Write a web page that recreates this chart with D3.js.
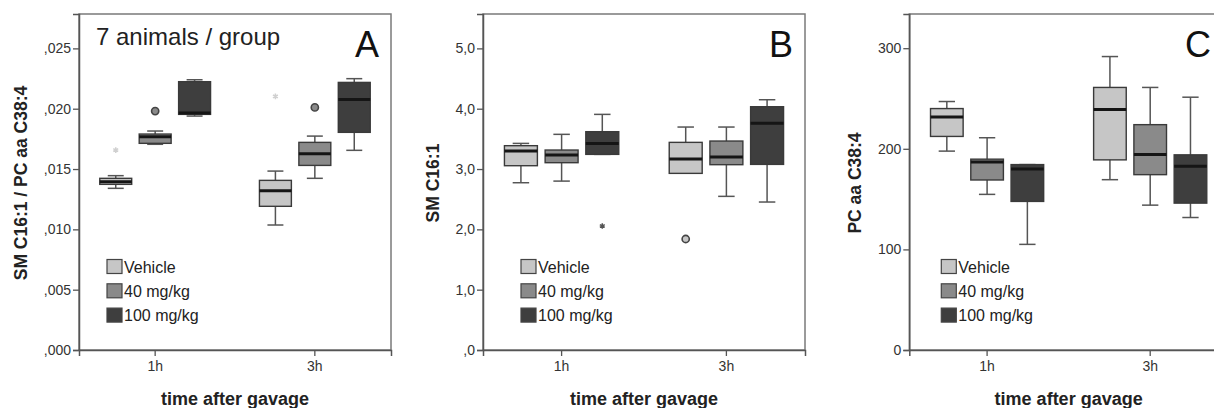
<!DOCTYPE html>
<html>
<head>
<meta charset="utf-8">
<script src="https://cdn.jsdelivr.net/npm/d3@7"></script>
<style>
body { margin: 0; background: #fff; }
svg { font-family: "Liberation Sans", Arial, sans-serif; display: block; }
</style>
</head>
<body>
<svg id="chart"></svg>
<script>
let times = ['1h', '3h'];
let groups = ['Vehicle', '40 mg/kg', '100 mg/kg'];

// each row: [lower whisker, q1, median, q3, upper whisker], 1h groups then 3h groups
let boxesA = [
    [0.01340, 0.01373, 0.01395, 0.01423, 0.01445],
    [0.01705, 0.01713, 0.01768, 0.01790, 0.01815],
    [0.01939, 0.01953, 0.01964, 0.02224, 0.02240],
    [0.01036, 0.01191, 0.01320, 0.01406, 0.01483],
    [0.01423, 0.01530, 0.01627, 0.01721, 0.01773],
    [0.01655, 0.01804, 0.02077, 0.02218, 0.02249]
];
let outliersA = [
    ['1h', 'Vehicle', 0.01657, 'star'],
    ['1h', '40 mg/kg', 0.01980, 'circle'],
    ['3h', 'Vehicle', 0.02102, 'star'],
    ['3h', '40 mg/kg', 0.02011, 'circle']
];
let ticksA = [0, 0.005, 0.010, 0.015, 0.020, 0.025];

let boxesB = [
    [2.773, 3.055, 3.300, 3.387, 3.425],
    [2.800, 3.105, 3.232, 3.315, 3.575],
    [3.243, 3.243, 3.425, 3.619, 3.906],
    [2.930, 2.928, 3.166, 3.442, 3.696],
    [2.547, 3.072, 3.199, 3.464, 3.696],
    [2.453, 3.077, 3.757, 4.033, 4.149]
];
let outliersB = [
    ['1h', '100 mg/kg', 2.055, 'star'],
    ['3h', 'Vehicle', 1.840, 'circle']
];
let ticksB = [0, 1, 2, 3, 4, 5];

let boxesC = [
    [197.7, 212.3, 231.7, 240.0, 247.0],
    [154.7, 169.0, 187.0, 189.7, 211.0],
    [105.0, 147.7, 179.8, 184.3, 184.3],
    [169.3, 189.0, 239.0, 261.0, 291.7],
    [144.0, 174.3, 194.3, 224.0, 261.0],
    [131.7, 146.0, 182.7, 194.0, 251.3]
];
let outliersC = [];
let ticksC = [0, 100, 200, 300];

let width = 1214;
let height = 408;
let plotTop = 14;
let plotBottom = 350;

let color = d3.scaleOrdinal().domain(groups).range(['#c6c6c6', '#8a8a8a', '#3e3e3e']);

let commaFmt = (digits) => (v) => {
    let s = d3.format('.' + digits + 'f')(v).replace('.', ',');
    return s.replace(/^0,/, ',');
};

let panels = [
    { letter: 'A', letterPad: 12, left: 79, right: 391, yMax: 0.02785, boxes: boxesA, outliers: outliersA, ticks: ticksA,
      fmt: commaFmt(3), title: 'SM C16:1 / PC aa C38:4', titleOff: 58, legendX: 28, note: '7 animals / group' },
    { letter: 'B', letterPad: 12, left: 483, right: 805, yMax: 5.57, boxes: boxesB, outliers: outliersB, ticks: ticksB,
      fmt: commaFmt(1), title: 'SM C16:1', titleOff: 50, legendX: 38 },
    { letter: 'C', letterPad: 17, left: 909.3, right: 1228, yMax: 334, boxes: boxesC, outliers: outliersC, ticks: ticksC,
      fmt: d3.format('d'), title: 'PC aa C38:4', titleOff: 54, legendX: 32 }
];

let svg = d3.select('#chart').attr('width', width).attr('height', height);
svg.append('rect').attr('width', width).attr('height', height).attr('fill', '#fff');

const drawPanel = (p) => {
    let w = p.right - p.left;
    let h = plotBottom - plotTop;
    let g = svg.append('g').attr('transform', `translate(${p.left},${plotTop})`);

    let y = d3.scaleLinear().domain([0, p.yMax]).range([h, 0]);
    let x0 = d3.scaleBand().domain(times).range([0, w]).paddingInner(0.2).paddingOuter(0.077);
    let x1 = d3.scaleBand().domain(groups).range([0, x0.bandwidth()]).paddingInner(0.19).paddingOuter(0.215);
    let bw = x1.bandwidth();

    g.append('rect')
        .attr('width', w).attr('height', h)
        .attr('fill', 'none').attr('stroke', '#7a7a7a').attr('stroke-width', 1.5);

    let yAxis = g.append('g')
        .call(d3.axisLeft(y).tickValues(p.ticks).tickSize(6).tickPadding(2).tickFormat(p.fmt));
    let xAxis = g.append('g')
        .attr('transform', `translate(0,${h})`)
        .call(d3.axisBottom(x0).tickSize(6).tickPadding(5));
    [yAxis, xAxis].forEach((a) => {
        a.select('.domain').attr('stroke', '#555').attr('stroke-width', 1.5);
        a.selectAll('.tick line').attr('stroke', '#555').attr('stroke-width', 1.3);
        a.selectAll('.tick text').attr('fill', '#333').style('font-size', '14px').style('font-family', 'inherit');
    });

    let rows = [];
    times.forEach((t, ti) => groups.forEach((gr, gi) => {
        let s = p.boxes[ti * groups.length + gi];
        rows.push({ time: t, group: gr, lo: s[0], q1: s[1], med: s[2], q3: s[3], hi: s[4] });
    }));

    let box = g.selectAll('.box').data(rows).enter().append('g')
        .attr('class', 'box')
        .attr('transform', (d) => `translate(${x0(d.time) + x1(d.group) + bw / 2},0)`);

    box.append('line')
        .attr('y1', (d) => y(d.lo)).attr('y2', (d) => y(d.hi))
        .attr('stroke', '#555').attr('stroke-width', 1.5);
    box.append('line')
        .attr('x1', -bw / 4).attr('x2', bw / 4)
        .attr('y1', (d) => y(d.hi)).attr('y2', (d) => y(d.hi))
        .attr('stroke', '#555').attr('stroke-width', 1.5);
    box.append('line')
        .attr('x1', -bw / 4).attr('x2', bw / 4)
        .attr('y1', (d) => y(d.lo)).attr('y2', (d) => y(d.lo))
        .attr('stroke', '#555').attr('stroke-width', 1.5);
    box.append('rect')
        .attr('x', -bw / 2).attr('width', bw)
        .attr('y', (d) => y(d.q3))
        .attr('height', (d) => y(d.q1) - y(d.q3))
        .attr('fill', (d) => color(d.group))
        .attr('stroke', '#3a3a3a').attr('stroke-width', 1.4);
    box.append('line')
        .attr('x1', -bw / 2).attr('x2', bw / 2)
        .attr('y1', (d) => y(d.med)).attr('y2', (d) => y(d.med))
        .attr('stroke', '#151515').attr('stroke-width', 3);

    let out = g.selectAll('.out').data(p.outliers).enter().append('g')
        .attr('class', 'out')
        .attr('transform', (d) => `translate(${x0(d[0]) + x1(d[1]) + bw / 2},${y(d[2])})`);
    out.filter((d) => d[3] === 'circle').append('circle')
        .attr('r', 3.6)
        .attr('fill', (d) => color(d[1]))
        .attr('stroke', '#444').attr('stroke-width', 1.6);
    out.filter((d) => d[3] === 'star').append('path')
        .attr('d', d3.symbol(d3.symbolAsterisk, 22))
        .attr('fill', 'none')
        .attr('stroke', (d) => d[1] === 'Vehicle' ? '#d0d0d0' : '#555')
        .attr('stroke-width', 1.5);

    let legend = g.selectAll('.leg').data(groups).enter().append('g')
        .attr('class', 'leg')
        .attr('transform', (d, i) => `translate(${p.legendX},${252.5 + i * 24.3})`);
    legend.append('rect')
        .attr('y', -7).attr('width', 15).attr('height', 14)
        .attr('fill', (d) => color(d))
        .attr('stroke', '#444').attr('stroke-width', 1.2);
    legend.append('text')
        .attr('x', 17).attr('y', 6)
        .attr('fill', '#222').style('font-size', '16px')
        .text((d) => d);

    g.append('text')
        .attr('x', w - p.letterPad).attr('y', 43)
        .attr('text-anchor', 'end')
        .attr('fill', '#111').style('font-size', '36px')
        .text(p.letter);

    if (p.note) {
        g.append('text')
            .attr('x', 17).attr('y', 31)
            .attr('fill', '#222').style('font-size', '24px')
            .text(p.note);
    }

    g.append('text')
        .attr('transform', `translate(${-p.titleOff},${h / 2 + 1}) rotate(-90)`)
        .attr('text-anchor', 'middle').attr('dy', '0.35em')
        .attr('fill', '#222').style('font-size', '17.5px').style('font-weight', 'bold')
        .text(p.title);

    g.append('text')
        .attr('x', w / 2).attr('y', 405 - plotTop)
        .attr('text-anchor', 'middle')
        .attr('fill', '#222').style('font-size', '18px').style('font-weight', 'bold')
        .text('time after gavage');
};

panels.forEach(drawPanel);
</script>
</body>
</html>
